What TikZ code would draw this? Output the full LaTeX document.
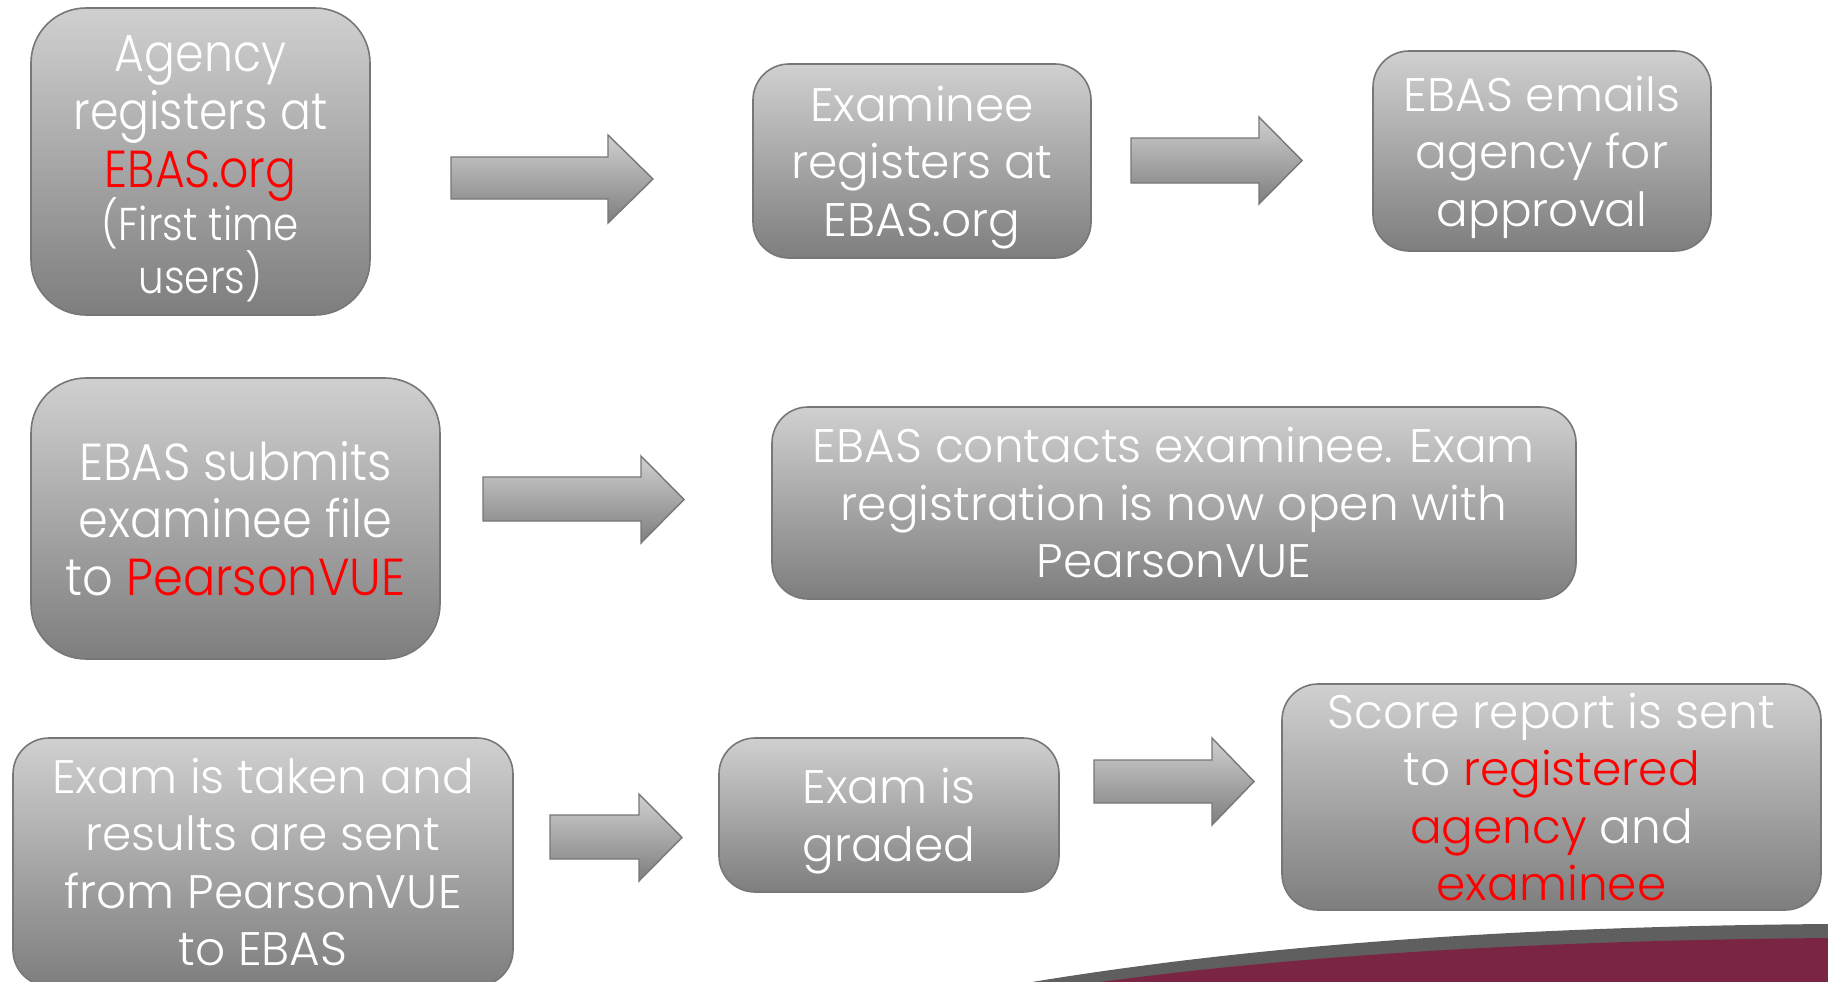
\documentclass[tikz,border=0pt]{standalone}
\usepackage{fontspec}
\setmainfont{Poppins}[UprightFont={* Light}]
\newfontfamily\narrowfont{Poppins}[UprightFont={* Light},FakeStretch=0.88]
\newfontfamily\midfont{Poppins}[UprightFont={* Light},FakeStretch=0.92]
\definecolor{boxtop}{HTML}{D0D0D0}
\definecolor{boxbot}{HTML}{7E7E7E}
\definecolor{boxline}{HTML}{777777}
\definecolor{maroon}{HTML}{7B2545}
\definecolor{swgray}{HTML}{5F5F5F}
\tikzset{
  stepbox/.style={draw=boxline, line width=1.6pt, top color=boxtop, bottom color=boxbot,
    rounded corners=36pt, align=center, text=white, inner sep=0pt,
    font=\fontsize{47}{57.5}\selectfont},
  bigcorner/.style={rounded corners=55pt},
  blockarrow/.style={draw=boxline, line width=1.4pt, top color=boxtop, bottom color=boxbot}
}
\newcommand{\rd}[1]{\textcolor{red}{#1}}
\newcommand{\lowr}{\rule{0pt}{48pt}}
\newcommand{\barrow}[7]{%
  \path[blockarrow] (#1,#5) -- (#7,#5) -- (#7,#3) -- (#2,{(#3+#4)/2}) -- (#7,#4) -- (#7,#6) -- (#1,#6) -- cycle;}
\begin{document}
\begin{tikzpicture}[x=1pt,y=-1pt]
\useasboundingbox (0,0) rectangle (1828,982);
% swoosh
\fill[swgray] (1032,982) .. controls (1300,938) and (1580,926) .. (1828,924) -- (1828,982) -- cycle;
\fill[maroon] (1100,982) .. controls (1340,950) and (1600,940) .. (1828,938) -- (1828,982) -- cycle;
% row 1
\node[stepbox, bigcorner, minimum width=339pt, minimum height=307pt,
  font=\fontsize{52}{58}\selectfont\narrowfont] (b1) at (200.5,161.5)
  {\rule{0pt}{50pt}Agency\\ registers at\\ \rd{EBAS.org}\\[-5pt]
   \fontsize{46}{53}\selectfont (First time\\[-5pt] \fontsize{46}{53}\selectfont users)};
\node[stepbox, minimum width=338pt, minimum height=194pt] (b2) at (922,161)
  {\lowr Examinee\\ registers at\\ EBAS.org};
\node[stepbox, minimum width=338pt, minimum height=200pt] (b3) at (1542,151)
  {\lowr EBAS emails\\ agency for\\ approval};
% row 2
\node[stepbox, bigcorner, minimum width=409pt, minimum height=281pt,
  font=\fontsize{52}{57.5}\selectfont\midfont] (b4) at (235.5,518.5)
  {EBAS submits\\ examinee file\\ to \rd{PearsonVUE}};
\node[stepbox, minimum width=804pt, minimum height=192pt] (b5) at (1174,503)
  {EBAS contacts examinee. Exam\\ registration is now open with\\ PearsonVUE};
% row 3
\node[stepbox, minimum width=500pt, minimum height=248pt] (b6) at (263,862)
  {Exam is taken and\\ results are sent\\ from PearsonVUE\\ to EBAS};
\node[stepbox, minimum width=340pt, minimum height=154pt] (b7) at (889,815)
  {\lowr Exam is\\ graded};
\node[stepbox, minimum width=539pt, minimum height=226pt] (b8) at (1551.5,797)
  {Score report is sent\\ to \rd{registered}\\ \rd{agency} and\\ \rd{examinee}};
% block arrows
\barrow{451}{653}{135}{223}{157}{199}{608}
\barrow{1131}{1302}{117}{204}{138}{183}{1259}
\barrow{483}{684}{456}{543}{477}{521}{641}
\barrow{550}{682}{794}{881}{815}{859}{639}
\barrow{1094}{1254}{738}{825}{760}{803}{1212}
\end{tikzpicture}
\end{document}
